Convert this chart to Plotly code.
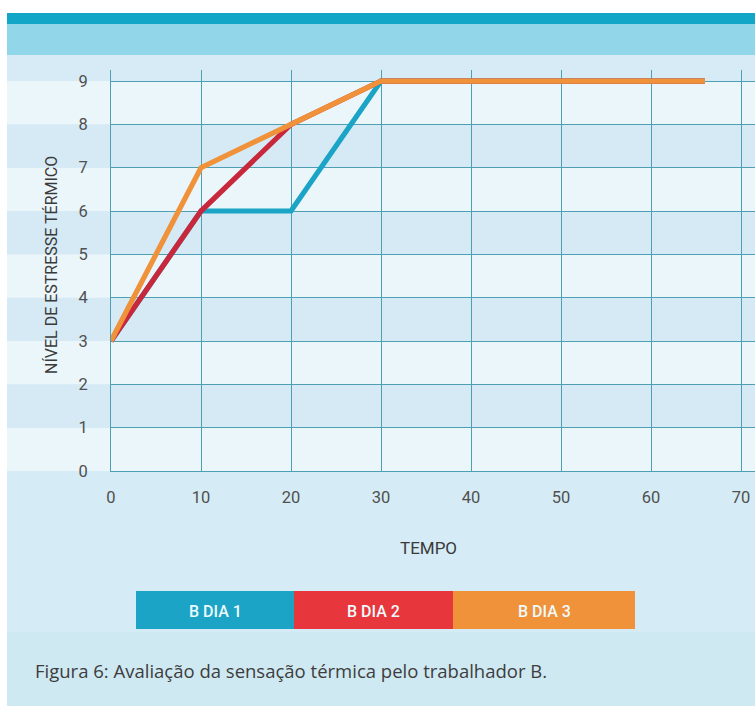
import plotly.graph_objects as go

# Series data
tempo = [0, 10, 20, 30, 66]
series_names = ["B DIA 1", "B DIA 2", "B DIA 3"]
dia1 = [3, 6, 6, 9, 9]
dia2 = [3, 6, 8, 9, 9]
dia3 = [3, 7, 8, 9, 9]
series_colors = ["#1ba4c6", "#c9283c", "#f0923a"]
x_ticks = [0, 10, 20, 30, 40, 50, 60, 70]
y_ticks = list(range(0, 10))

W, H = 755, 706
L, R, T, B = 111, 0, 70, 235
PW, PH = W - L - R, H - T - B


def px(x):
    return (x - L) / PW


def py(y):
    return (H - B - y) / PH


fig = go.Figure()
for name, ys, col in zip(series_names, [dia1, dia2, dia3], series_colors):
    fig.add_trace(go.Scatter(
        x=tempo, y=ys, mode="lines", name=name,
        line=dict(color=col, width=5.2), hoverinfo="skip"))

shapes = []
# outer panel
shapes.append(dict(type="rect", xref="paper", yref="paper", x0=px(7), x1=px(W + 5),
                   y0=py(H + 5), y1=py(13), fillcolor="#d5ebf5", line_width=0, layer="below"))
# lower band under legend
shapes.append(dict(type="rect", xref="paper", yref="paper", x0=px(7), x1=px(W + 5),
                   y0=py(H + 5), y1=py(632), fillcolor="#cfe9f3", line_width=0, layer="below"))
# header bands
shapes.append(dict(type="rect", xref="paper", yref="paper", x0=px(7), x1=px(W + 5),
                   y0=py(24), y1=py(13), fillcolor="#14a6c7", line_width=0, layer="below"))
shapes.append(dict(type="rect", xref="paper", yref="paper", x0=px(7), x1=px(W + 5),
                   y0=py(55), y1=py(24), fillcolor="#92d6e9", line_width=0, layer="below"))
# alternating row stripes
shapes.append(dict(type="rect", xref="paper", yref="paper", x0=px(7), x1=px(W + 5),
                   y0=py(81), y1=py(55), fillcolor="#d6ebf5", line_width=0, layer="below"))
for k in range(9):
    col = "#ebf6fb" if k % 2 == 0 else "#d5eaf5"
    shapes.append(dict(type="rect", xref="paper", yref="y", x0=px(7), x1=px(W + 5),
                       y0=k, y1=k + 1, fillcolor=col, line_width=0, layer="below"))

# legend blocks
legend_edges = [136, 294, 453, 635]
annotations = []
for i, (name, col) in enumerate(zip(series_names, series_colors)):
    x0, x1 = legend_edges[i], legend_edges[i + 1]
    legend_col = {"#c9283c": "#e8373c"}.get(col, col)
    shapes.append(dict(type="rect", xref="paper", yref="paper", x0=px(x0), x1=px(x1),
                       y0=py(629), y1=py(591), fillcolor=legend_col, line_width=0, layer="above"))
    annotations.append(dict(x=px((x0 + x1) / 2), y=py(611), xref="paper", yref="paper",
                            xanchor="center", yanchor="middle",
                            text=name, showarrow=False,
                            font=dict(family="Roboto", size=16, color="#eefafd", weight=500)))

annotations.append(dict(x=px(51), y=py(265), xref="paper", yref="paper",
                        xanchor="center", yanchor="middle",
                        text="NÍVEL DE ESTRESSE TÉRMICO", textangle=-90, showarrow=False,
                        font=dict(family="Roboto", size=16, color="#3a3a3a")))
annotations.append(dict(x=px(428), y=py(548), xref="paper", yref="paper",
                        xanchor="center", yanchor="middle",
                        text="TEMPO", showarrow=False,
                        font=dict(family="Roboto", size=17, color="#3a3a3a")))
annotations.append(dict(x=px(33), y=py(670), xref="paper", yref="paper",
                        xanchor="left", yanchor="middle",
                        text="Figura 6: Avaliação da sensação térmica pelo trabalhador B.",
                        showarrow=False,
                        font=dict(family="Open Sans", size=18.5, color="#3d3d3d")))

grid_col = "#4d9fb3"
tick_font = dict(family="Roboto", size=16.5, color="#505050")
fig.update_layout(
    width=W, height=H,
    margin=dict(l=L, r=R, t=T, b=B),
    paper_bgcolor="white", plot_bgcolor="rgba(0,0,0,0)",
    showlegend=False,
    shapes=shapes, annotations=annotations,
    xaxis=dict(range=[0, PW / 9.0], tickvals=x_ticks, showgrid=True, gridcolor=grid_col,
               gridwidth=1, zeroline=False, showline=True, linecolor=grid_col,
               ticks="", ticklabelstandoff=11, tickfont=tick_font),
    yaxis=dict(range=[0, PH / 43.33], tickvals=y_ticks, showgrid=True, gridcolor=grid_col,
               gridwidth=1, zeroline=False, showline=True, linecolor=grid_col,
               ticks="", ticklabelstandoff=19, tickfont=tick_font),
)

fig.write_html("out.html")
